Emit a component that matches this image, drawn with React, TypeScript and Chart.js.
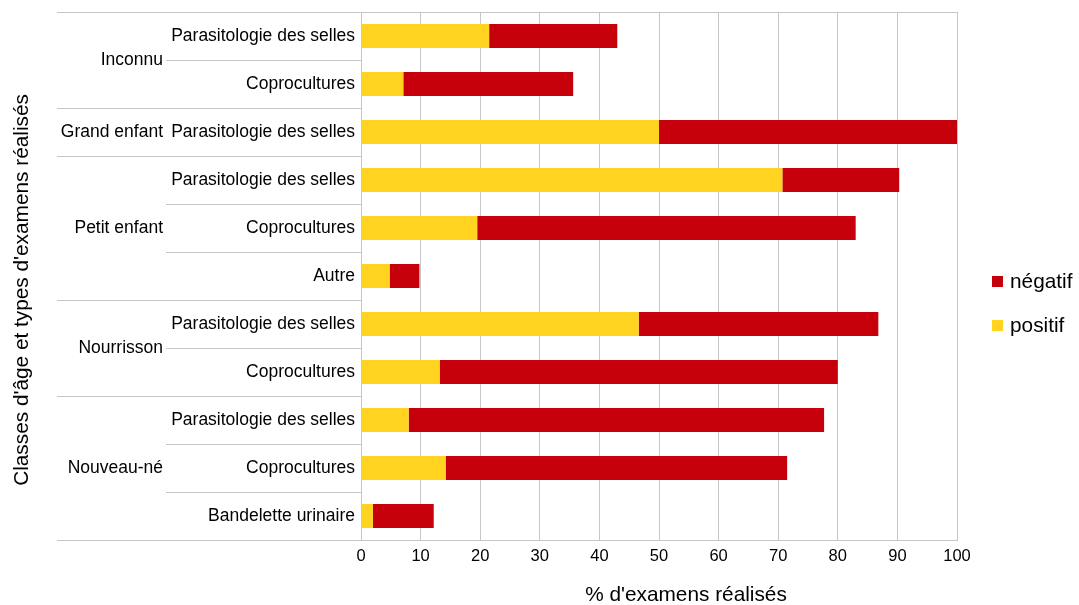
import React, { useEffect, useRef } from 'react';
import { Chart, registerables } from 'chart.js';

Chart.register(...registerables);

const ageClasses = [
  'Inconnu', 'Inconnu',
  'Grand enfant',
  'Petit enfant', 'Petit enfant', 'Petit enfant',
  'Nourrisson', 'Nourrisson',
  'Nouveau-né', 'Nouveau-né', 'Nouveau-né',
];
const examTypes = [
  'Parasitologie des selles', 'Coprocultures',
  'Parasitologie des selles',
  'Parasitologie des selles', 'Coprocultures', 'Autre',
  'Parasitologie des selles', 'Coprocultures',
  'Parasitologie des selles', 'Coprocultures', 'Bandelette urinaire',
];
const positif = [21.5, 7.1, 50.0, 70.7, 19.5, 4.8, 46.6, 13.2, 8.0, 14.2, 2.0];
const negatif = [21.5, 28.5, 50.0, 19.6, 63.5, 5.0, 40.2, 66.8, 69.7, 57.3, 10.2];

const seriesNames = ['positif', 'négatif'];
const seriesColors = ['#FFD320', '#C5000B'];
const yTitle = "Classes d'âge et types d'examens réalisés";
const xTitle = "% d'examens réalisés";

const FONT = "'Liberation Sans', Arial, sans-serif";
const LINE = '#c6c6c6';

const labelPlugin = {
  id: 'labelPlugin',
  afterDraw(chart: any) {
    const ctx = chart.ctx as CanvasRenderingContext2D;
    const y = chart.scales.y;
    const area = chart.chartArea;
    const n = examTypes.length;
    const step = y.getPixelForValue(1) - y.getPixelForValue(0);
    const axisX = area.left;
    const outerX = 57;
    const innerX = 166;
    ctx.save();
    ctx.strokeStyle = LINE;
    ctx.lineWidth = 1;
    const hline = (x0: number, x1: number, yy: number) => {
      const py = Math.round(yy) + 0.5;
      ctx.beginPath();
      ctx.moveTo(x0, py);
      ctx.lineTo(x1, py);
      ctx.stroke();
    };
    const topY = y.getPixelForValue(0) - step / 2;
    const botY = y.getPixelForValue(n - 1) + step / 2;
    hline(outerX, area.right, topY);
    hline(outerX, axisX, botY);
    for (let i = 0; i < n - 1; i++) {
      const yy = (y.getPixelForValue(i) + y.getPixelForValue(i + 1)) / 2;
      if (ageClasses[i] !== ageClasses[i + 1]) hline(outerX, axisX, yy);
      else hline(innerX, axisX, yy);
    }
    ctx.fillStyle = '#000';
    ctx.font = `17.5px ${FONT}`;
    ctx.textAlign = 'right';
    ctx.textBaseline = 'middle';
    for (let i = 0; i < n; i++) {
      ctx.fillText(examTypes[i], axisX - 6, y.getPixelForValue(i));
    }
    let start = 0;
    for (let i = 1; i <= n; i++) {
      if (i === n || ageClasses[i] !== ageClasses[start]) {
        const cy = (y.getPixelForValue(start) + y.getPixelForValue(i - 1)) / 2;
        ctx.fillText(ageClasses[start], 163, cy);
        start = i;
      }
    }
    ctx.font = `20.8px ${FONT}`;
    ctx.textAlign = 'center';
    ctx.fillText(xTitle, 686, 595);
    ctx.save();
    ctx.translate(22, 290);
    ctx.rotate(-Math.PI / 2);
    ctx.fillText(yTitle, 0, 0);
    ctx.restore();
    const legendOrder = [1, 0];
    ctx.textAlign = 'left';
    legendOrder.forEach((k, j) => {
      const cy = 282 + j * 44;
      ctx.fillStyle = seriesColors[k];
      ctx.fillRect(992, cy - 6, 11, 11);
      ctx.fillStyle = '#000';
      ctx.fillText(seriesNames[k], 1010, cy);
    });
    ctx.restore();
  },
};

export default function App() {
  const ref = useRef<HTMLCanvasElement>(null);
  useEffect(() => {
    if (!ref.current) return;
    const chart = new Chart(ref.current, {
      type: 'bar',
      data: {
        labels: examTypes,
        datasets: [
          { label: seriesNames[0], data: positif, backgroundColor: seriesColors[0], barPercentage: 1, categoryPercentage: 0.5 },
          { label: seriesNames[1], data: negatif, backgroundColor: seriesColors[1], barPercentage: 1, categoryPercentage: 0.5 },
        ],
      },
      options: {
        indexAxis: 'y',
        responsive: false,
        animation: false,
        layout: { padding: { left: 0, top: 12, right: 122, bottom: 0 } },
        plugins: { legend: { display: false }, tooltip: { enabled: false } },
        scales: {
          x: {
            stacked: true,
            min: 0,
            max: 100,
            ticks: { stepSize: 10, color: '#000', font: { family: FONT, size: 16.5 }, padding: 7 },
            grid: { color: LINE, drawTicks: false },
            border: { color: LINE },
            afterFit: (s: any) => { s.height = 65; },
          },
          y: {
            stacked: true,
            ticks: { display: false },
            grid: { display: false },
            border: { color: LINE },
            afterFit: (s: any) => { s.width = 361; },
          },
        },
      },
      plugins: [labelPlugin],
    } as any);
    return () => chart.destroy();
  }, []);
  return (
    <div style={{ position: 'fixed', left: 0, top: 0, width: 1079, height: 605, background: '#fff' }}>
      <canvas ref={ref} width={1079} height={605} />
    </div>
  );
}
